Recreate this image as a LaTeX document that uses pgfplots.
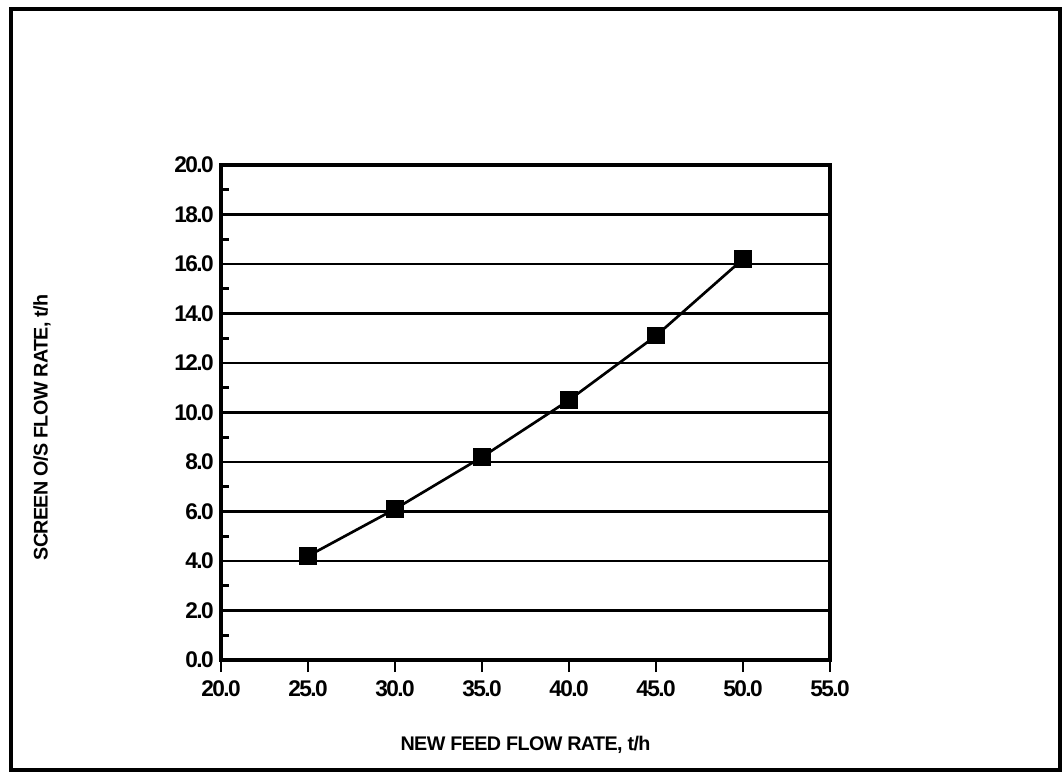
\documentclass[border=0pt]{standalone}
\usepackage{fontspec}
\setmainfont{Liberation Sans}
\newfontfamily\tickfont[LetterSpace=-7]{Liberation Sans}
\newfontfamily\labfont[LetterSpace=-3]{Liberation Sans}
\usepackage{pgfplots}
\pgfplotsset{compat=1.18}
\begin{document}
\begin{tikzpicture}
\begin{axis}[
  scale only axis,
  width=456.75pt, height=371.25pt,
  xmin=20, xmax=55, ymin=0, ymax=20,
  xtick={20,25,...,55},
  ytick={0,2,...,20},
  minor ytick={1,3,...,19},
  ymajorgrids,
  major grid style={black, line width=2pt},
  axis line style={black, line width=2.3pt},
  tick style={black, line width=2pt},
  xtick pos=bottom, ytick pos=left,
  xtick align=outside,
  ytick align=inside,
  major tick length=9pt,
  minor tick length=6pt,
  /pgf/number format/assume math mode=true,
  /pgf/number format/fixed, /pgf/number format/fixed zerofill,
  /pgf/number format/precision=1,
  tick label style={font=\tickfont\bfseries\fontsize{17}{19}\selectfont},
  xticklabel style={yshift=-3pt},
  yticklabel style={xshift=-2pt},
  xlabel={NEW FEED FLOW RATE, t/h},
  ylabel={SCREEN O/S FLOW RATE, t/h},
  label style={font=\labfont\bfseries\fontsize{14.8}{17}\selectfont},
  xlabel style={at={(rel axis cs:0.5,-0.1717)}, anchor=center},
  ylabel style={at={(rel axis cs:-0.294,0.47)}, anchor=center},
  clip=false,
]
\addplot[black, line width=2pt, mark=square*, mark size=5.5pt, mark options={solid, fill=black}]
  coordinates {(25,4.2) (30,6.1) (35,8.2) (40,10.5) (45,13.1) (50,16.2)};
\draw[black, line width=2.4pt] (rel axis cs:-0.3448,-0.2222) rectangle (rel axis cs:1.3777,1.3152);
\useasboundingbox (rel axis cs:-0.3629,-0.2263) rectangle (rel axis cs:1.3842,1.3333);
\end{axis}
\end{tikzpicture}
\end{document}
